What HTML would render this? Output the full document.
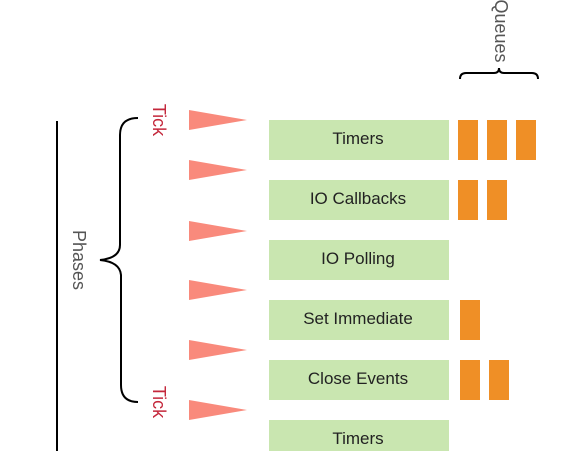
<!DOCTYPE html><html><head><style>body{margin:0;background:#fff;width:586px;height:451px;overflow:hidden;font-family:"Liberation Sans",sans-serif}</style></head><body>
<svg width="586" height="451" xmlns="http://www.w3.org/2000/svg" font-family="Liberation Sans, sans-serif">
<line x1="57" y1="121" x2="57" y2="451" stroke="#000" stroke-width="2"/>
<path d="M138 118 Q120 118 120 135 L120 245 Q120 258 100 260 Q120 262 121 275 L121 385 Q121 402 138 402" fill="none" stroke="#000" stroke-width="2"/>
<text transform="translate(73,260) rotate(90)" text-anchor="middle" font-size="18" fill="#555">Phases</text>
<text transform="translate(153,120) rotate(90)" text-anchor="middle" font-size="18" fill="#c4283c">Tick</text>
<text transform="translate(153,402) rotate(90)" text-anchor="middle" font-size="18" fill="#c4283c">Tick</text>
<g fill="#f98a7c">
<polygon points="189,110 247,120 189,130"/><polygon points="189,160 247,170 189,180"/><polygon points="189,221 247,231 189,241"/><polygon points="189,280 247,290 189,300"/><polygon points="189,340 247,350 189,360"/><polygon points="189,400 247,410 189,420"/>
</g>
<g fill="#c9e6b0"><rect x="269" y="120" width="180" height="40"/><rect x="269" y="180" width="180" height="40"/><rect x="269" y="240" width="180" height="40"/><rect x="269" y="300" width="180" height="40"/><rect x="269" y="360" width="180" height="40"/><rect x="269" y="420" width="180" height="40"/></g>
<g font-size="17" fill="#222" text-anchor="middle"><text x="358" y="144">Timers</text><text x="358" y="204">IO Callbacks</text><text x="358" y="264">IO Polling</text><text x="358" y="324">Set Immediate</text><text x="358" y="384">Close Events</text><text x="358" y="444">Timers</text></g>
<g fill="#ef8f26"><rect x="458" y="120" width="20" height="40"/><rect x="487" y="120" width="20" height="40"/><rect x="516" y="120" width="20" height="40"/><rect x="458" y="180" width="20" height="40"/><rect x="487" y="180" width="20" height="40"/><rect x="460" y="300" width="20" height="40"/><rect x="460" y="360" width="20" height="40"/><rect x="489" y="360" width="20" height="40"/></g>
<path d="M460 79 Q460 73 466 73 L494 73 Q499 73 499 68 Q499 73 504 73 L532 73 Q538 73 538 79" fill="none" stroke="#000" stroke-width="2"/>
<text transform="translate(495,31) rotate(90)" text-anchor="middle" font-size="18" fill="#555">Queues</text>
</svg></body></html>
